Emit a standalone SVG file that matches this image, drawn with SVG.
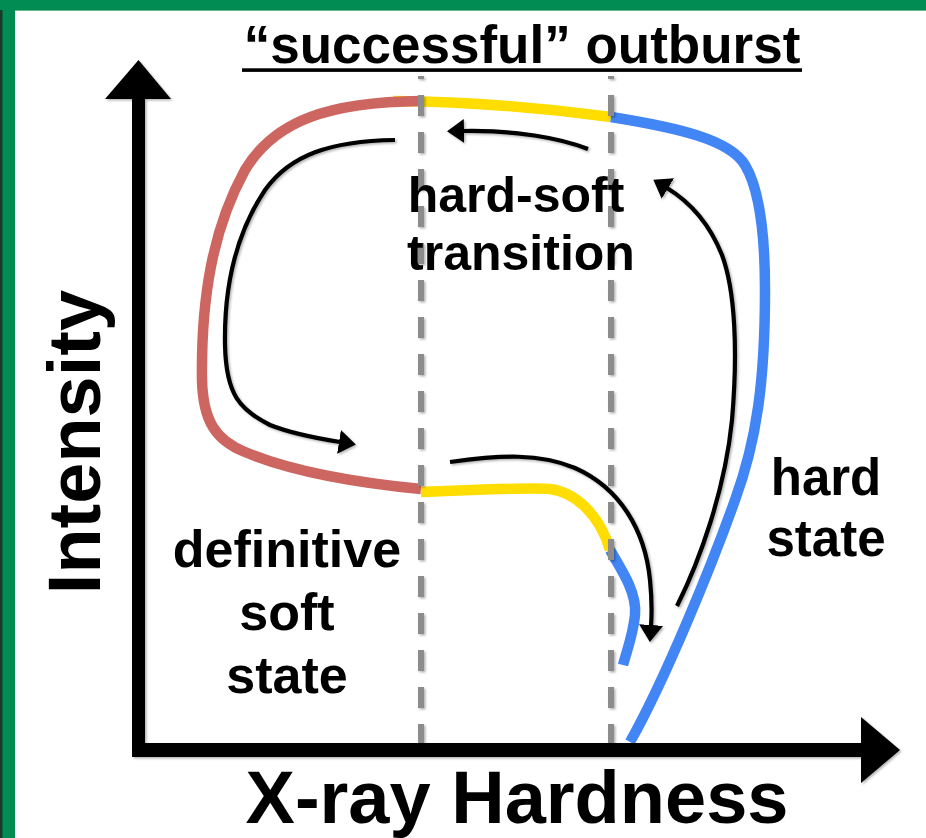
<svg xmlns="http://www.w3.org/2000/svg" width="926" height="838" viewBox="0 0 926 838">
<defs>
<style>
.t{font-family:"Liberation Sans",Arial,Helvetica,sans-serif;font-weight:bold;fill:#000;text-anchor:middle}
.curve{fill:none;stroke-width:10.5;stroke-linecap:butt;stroke-linejoin:round}
.red{stroke:#CD6660}
.yel{stroke:#FFDD00}
.blu{stroke:#4285F4}
.dash{stroke:#8c8c8c;stroke-width:6;stroke-dasharray:21 16;stroke-dashoffset:18;fill:none}
.arr{fill:none;stroke:#000;stroke-width:4.2;stroke-linecap:butt}
</style>
<filter id="sh" x="-20%" y="-20%" width="140%" height="140%">
<feDropShadow dx="1.5" dy="1.5" stdDeviation="1.3" flood-color="#000" flood-opacity="0.3"/>
</filter>
<marker id="ah" markerUnits="userSpaceOnUse" markerWidth="20" markerHeight="26" refX="1" refY="12" orient="auto">
<path d="M0,0 L17,12 L0,24 z" fill="#000"/>
</marker>
</defs>
<rect x="0" y="0" width="926" height="838" fill="#fff"/>
<g id="frame">
<rect x="0" y="0" width="926" height="10" fill="#008C52"/>
<rect x="0" y="10" width="926" height="1" fill="#5fb98a"/>
<rect x="0" y="0" width="15" height="838" fill="#008C52"/>
<rect x="0" y="10" width="2.5" height="828" fill="#1a3a2a"/>
</g>
<g id="curves">
<path class="curve yel" d="M393,101 Q500,102 611,117"/>
<path class="curve red" d="M421,489 C370,484 300,475 245,452 C215,440 203,420 202,380 C201,300 212,230 245,170 C275,120 330,102 421,101"/>
<path class="curve blu" d="M611,117 C680,128 730,140 745,165 C760,190 765,240 765,290 C765,380 757,440 735,500 C712,565 665,680 630,742"/>
<path class="curve yel" d="M421,492 C480,490 530,487 550,489 C575,492 600,515 610,550"/>
<path class="curve blu" d="M610,550 C625,575 637,595 635,615 C633,635 627,650 623,665"/>
</g>
<g id="dividers" filter="url(#sh)">
<line class="dash" x1="421" y1="76" x2="421" y2="748"/>
<line class="dash" x1="611" y1="76" x2="611" y2="748"/>
</g>
<g id="connectors" filter="url(#sh)">
<path class="arr" marker-end="url(#ah)" d="M588,149 C560,138 515,130 463,131"/>
<path class="arr" marker-end="url(#ah)" d="M395,140 C330,141 290,155 265,190 C235,235 224,290 225,345 C226,395 240,410 270,425 C290,433 315,438 340,442"/>
<path class="arr" marker-end="url(#ah)" d="M450,462 C500,455 540,453 575,468 C620,488 645,530 650,580 C652,600 652,612 651,626"/>
<path class="arr" marker-end="url(#ah)" d="M677,606 C700,560 725,490 732,420 C738,350 735,290 722,255 C710,225 690,202 667,188"/>
</g>
<g id="axes" filter="url(#sh)">
<path d="M132,98 L145,98 L145,743 L862,743 L862,757 L132,757 z" fill="#000"/>
<polygon points="138.5,60 171,99 105,99" fill="#000"/>
<polygon points="900,750 861,717 861,783" fill="#000"/>
</g>
<g id="title">
<text class="t" x="522" y="63" font-size="53">“successful” outburst</text>
<rect x="242" y="68.3" width="560" height="3.6" fill="#000"/>
</g>
<g id="label-transition">
<text class="t" x="516" y="212" font-size="50">hard-soft</text>
<text class="t" x="521" y="270" font-size="50">transition</text>
</g>
<g id="label-hard">
<text class="t" x="826" y="495" font-size="51">hard</text>
<text class="t" x="826" y="556" font-size="51">state</text>
</g>
<g id="label-soft">
<text class="t" x="287" y="567" font-size="52">definitive</text>
<text class="t" x="287" y="630" font-size="52">soft</text>
<text class="t" x="287" y="693" font-size="52">state</text>
</g>
<g id="axis-labels">
<text class="t" x="0" y="0" font-size="74" transform="translate(100,442) rotate(-90)">Intensity</text>
<text class="t" x="517" y="823" font-size="74">X-ray Hardness</text>
</g>
</svg>
